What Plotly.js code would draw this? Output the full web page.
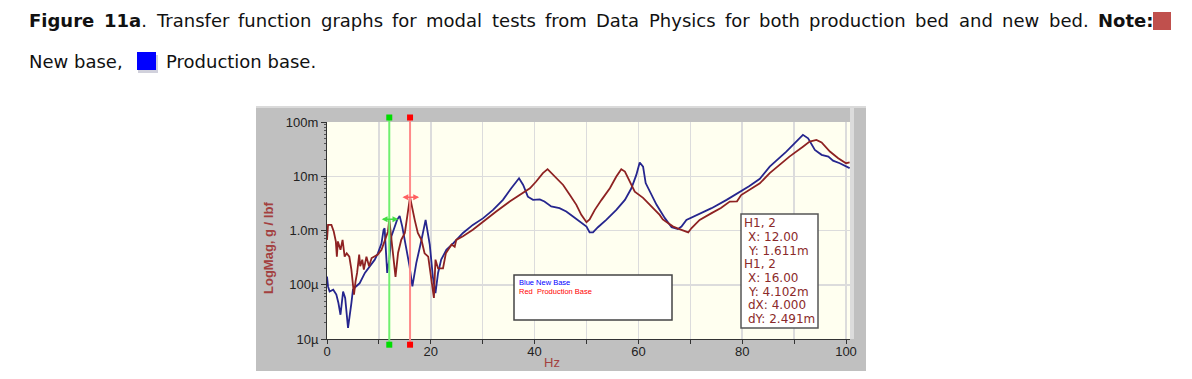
<!DOCTYPE html>
<html>
<head>
<meta charset="utf-8">
<script src="https://cdn.plot.ly/plotly-3.0.1.min.js"></script>
<style>html,body{margin:0;padding:0;background:#fff;}#chart{width:1192px;height:379px;}</style>
</head>
<body>
<div id="chart"></div>
<script>
// ---- data ----
const freqProduction = [0, 0.2, 0.85, 1.3, 1.7, 1.9, 2.1, 2.6, 3.0, 3.4, 3.8, 4.3, 4.7, 5.0, 5.2, 5.5, 5.8, 6.2, 6.4, 6.8, 7.1, 7.6, 8.1, 8.6, 9.2, 9.8, 10.5, 11.1, 11.75, 12.0, 12.6, 13.2, 13.7, 14.3, 15.0, 15.6, 16.0, 16.9, 17.5, 18.2, 18.8, 19.5, 20.1, 20.6, 20.9, 21.4, 22.35, 22.9, 24.0, 24.6, 24.9, 26.2, 28.1, 30.1, 32.6, 35.2, 37.1, 39.1, 40.3, 41.6, 42.5, 43.5, 44.5, 45.5, 46.8, 48.05, 49.0, 50.0, 50.6, 51.6, 52.9, 54.5, 55.75, 56.7, 57.4, 58.3, 59.3, 60.9, 62.5, 64.1, 64.7, 66.7, 68.3, 69.6, 70.2, 71.8, 74.1, 75.9, 77.6, 79.0, 79.8, 81.4, 83.4, 85.3, 89.1, 91.7, 93.0, 94.3, 95.3, 96.9, 98.5, 100.0, 100.7];
const magProduction = [0.67, 1.27, 1.27, 0.96, 0.63, 0.33, 0.63, 0.44, 0.67, 0.33, 0.38, 0.33, 0.19, 0.093, 0.066, 0.115, 0.165, 0.36, 0.22, 0.29, 0.19, 0.33, 0.22, 0.31, 0.33, 0.36, 0.44, 0.67, 0.96, 1.611, 0.51, 0.14, 0.39, 0.67, 0.9, 2.1, 4.102, 1.57, 0.9, 0.67, 0.38, 0.33, 0.12, 0.057, 0.29, 0.2, 0.2, 0.38, 0.55, 0.5, 0.67, 0.78, 1.03, 1.47, 2.24, 3.42, 4.5, 6.0, 8.0, 11.4, 13.5, 10.7, 8.6, 6.9, 4.5, 2.97, 1.94, 1.42, 1.6, 2.4, 3.67, 6.0, 9.9, 13.5, 12.2, 8.0, 5.2, 4.0, 2.77, 1.94, 1.6, 1.18, 1.03, 0.92, 1.1, 1.57, 2.09, 2.6, 3.42, 3.45, 4.5, 5.6, 7.4, 11.4, 23, 35, 43.6, 46.8, 42, 28.5, 21.5, 17.4, 18];
const freqNew = [0, 0.2, 0.5, 1.2, 1.8, 2.2, 2.6, 3.1, 3.5, 4.05, 4.7, 5.0, 5.6, 6.3, 7.3, 8.2, 9.2, 9.8, 10.5, 10.9, 11.1, 11.6, 12.0, 12.4, 13.05, 13.5, 14.0, 14.5, 15.2, 15.9, 16.45, 17.2, 18.2, 19.0, 19.8, 20.4, 20.9, 21.4, 22.0, 23.0, 24.3, 26.2, 28.1, 30.1, 32.0, 33.9, 35.5, 37.0, 37.8, 38.7, 39.7, 41.0, 41.9, 43.2, 44.8, 46.1, 47.4, 48.7, 50.0, 50.6, 51.25, 52.2, 53.8, 55.75, 57.4, 58.65, 59.6, 60.25, 60.9, 61.4, 62.5, 63.5, 65.1, 66.4, 67.6, 68.3, 69.25, 71.2, 74.1, 77.0, 80.2, 81.4, 83.4, 85.3, 88.5, 90.7, 91.7, 92.7, 94.0, 95.3, 96.6, 97.5, 98.8, 100.7];
const magNew = [0.142, 0.093, 0.075, 0.081, 0.066, 0.046, 0.028, 0.075, 0.057, 0.016, 0.046, 0.081, 0.093, 0.107, 0.165, 0.22, 0.29, 0.38, 0.58, 1.03, 1.1, 0.165, 0.29, 0.78, 1.18, 1.57, 1.86, 1.18, 0.51, 0.22, 0.093, 0.25, 0.67, 1.57, 0.55, 0.14, 0.07, 0.165, 0.29, 0.44, 0.58, 0.9, 1.27, 1.69, 2.4, 3.67, 6.0, 9.2, 6.9, 4.2, 3.67, 3.75, 3.42, 2.77, 2.58, 2.24, 1.81, 1.47, 1.18, 0.92, 0.92, 1.15, 1.57, 2.4, 3.67, 6.0, 10.6, 17.9, 15, 7.5, 4.5, 2.97, 1.69, 1.15, 1.06, 1.18, 1.57, 1.94, 2.58, 3.67, 5.6, 6.6, 9.0, 15, 28.5, 46.8, 58, 50, 30.6, 24.8, 23, 19.4, 17.4, 14.1];
const seriesNames = ['Blue New Base', 'Red  Production Base'];
const cursorX = [12, 16];          // Hz
const cursorY = [1.611, 4.102];    // m g/lbf
const xTickVals = [0, 20, 40, 60, 80, 100];
const xTickText = ['0', '20', '40', '60', '80', '100'];
const yTickVals = [1e-5, 1e-4, 1e-3, 1e-2, 1e-1];
const yTickText = ['10\u00b5', '100\u00b5', '1.0m', '10m', '100m'];
const readoutLines = ['H1, 2', 'X: 12.00', 'Y: 1.611m', 'H1, 2', 'X: 16.00', 'Y: 4.102m', 'dX: 4.000', 'dY: 2.491m'];
// caption words: [text, bold] segments per word
const captionWords = [[['Figure', 1]], [['11a', 1], ['.', 0]], [['Transfer', 0]], [['function', 0]], [['graphs', 0]], [['for', 0]], [['modal', 0]],
  [['tests', 0]], [['from', 0]], [['Data', 0]], [['Physics', 0]], [['for', 0]], [['both', 0]], [['production', 0]], [['bed', 0]],
  [['and', 0]], [['new', 0]], [['bed.', 0]], [['Note:', 1]]];
const captionLine2 = ['New base,', 'Production base.'];

// ---- layout helpers (pixel -> paper) ----
const L = 327, R = 342, T = 122, Bm = 40, W = 1192, Hh = 379;
const PW = W - L - R, PH = Hh - T - Bm, BOT = Hh - Bm;
const fx = px => (px - L) / PW;
const fy = py => (BOT - py) / PH;
const toG = arr => arr.map(v => v * 1e-3);

const traces = [
  {x: freqNew, y: toG(magNew), name: seriesNames[0], type: 'scatter', mode: 'lines',
   line: {color: '#26268e', width: 1.8}, showlegend: false, hoverinfo: 'x+y'},
  {x: freqProduction, y: toG(magProduction), name: seriesNames[1], type: 'scatter', mode: 'lines',
   line: {color: '#8e2222', width: 1.8}, showlegend: false, hoverinfo: 'x+y'}
];

const minorY = [];
for (let d = -5; d < -1; d++) for (let k = 2; k <= 9; k++) minorY.push(k * Math.pow(10, d));

const tickFont = {family: 'Liberation Sans, Arial, sans-serif', size: 13, color: '#222'};
const CAP_FAMILY = 'DejaVu Sans', CAP_SIZE = 18;
const capFont = {family: CAP_FAMILY + ', sans-serif', size: CAP_SIZE, color: '#111'};
const dark = '#8b2a2a';

const shapes = [
  {type: 'rect', xref: 'paper', yref: 'paper', layer: 'below', x0: fx(256), x1: fx(866), y0: fy(371), y1: fy(106), fillcolor: '#c0c0c0', line: {width: 0}},
  {type: 'rect', xref: 'paper', yref: 'paper', layer: 'below', x0: fx(256), x1: fx(866), y0: fy(108), y1: fy(106), fillcolor: '#dadada', line: {width: 0}},
  {type: 'rect', xref: 'paper', yref: 'paper', layer: 'below', x0: 1, x1: fx(854), y0: 0, y1: fy(108), fillcolor: '#dcdcdc', line: {width: 0}},
  {type: 'rect', xref: 'paper', yref: 'paper', layer: 'below', x0: 0, x1: 1, y0: 0, y1: 1, fillcolor: '#fffff0', line: {width: 0}},
  {type: 'rect', xref: 'paper', yref: 'paper', x0: fx(514), x1: fx(672), y0: fy(320), y1: fy(275), fillcolor: '#ffffff', line: {color: '#444', width: 1.5}},
  {type: 'rect', xref: 'paper', yref: 'paper', x0: fx(741), x1: fx(818), y0: fy(328), y1: fy(214), fillcolor: '#ffffff', line: {color: '#555', width: 1.5}},
  {type: 'rect', xref: 'paper', yref: 'paper', x0: fx(1153), x1: fx(1171), y0: fy(30), y1: fy(12), fillcolor: '#c0504d', line: {width: 0}},
  {type: 'rect', xref: 'paper', yref: 'paper', x0: fx(138), x1: fx(158), y0: fy(73), y1: fy(55), fillcolor: 'rgba(0,0,60,0.18)', line: {width: 0}},
  {type: 'rect', xref: 'paper', yref: 'paper', x0: fx(137), x1: fx(156), y0: fy(70), y1: fy(52), fillcolor: '#0000ff', line: {width: 0}}
];
const cursorColors = [['#6ff06f', '#00dd00'], ['#ff8a8a', '#ff0000']];
cursorX.forEach((cx, i) => {
  shapes.push({type: 'line', xref: 'x', yref: 'paper', x0: cx, x1: cx, y0: fy(344.7), y1: fy(117.5), line: {color: cursorColors[i][0], width: 2}});
  [117.5, 344.7].forEach(py => shapes.push({type: 'rect', xref: 'x', yref: 'paper', xsizemode: 'pixel', ysizemode: 'pixel',
    xanchor: cx, yanchor: fy(py), x0: -3, x1: 3, y0: -3, y1: 3, fillcolor: cursorColors[i][1], line: {width: 0}}));
});

const annotations = [];
// justified caption line 1 (measure words, spread to fill 28..1152 px)
const ctx = document.createElement('canvas').getContext('2d');
const segW = (t, b) => { ctx.font = (b ? 'bold ' : '') + CAP_SIZE + 'px "' + CAP_FAMILY + '"'; return ctx.measureText(t).width; };
const wordW = captionWords.map(w => w.reduce((s, g) => s + segW(g[0], g[1]), 0));
const lineStart = 28, lineEnd = 1152;
const gap = (lineEnd - lineStart - wordW.reduce((a, b) => a + b, 0)) / (captionWords.length - 1);
let cx0 = lineStart;
captionWords.forEach((w, i) => {
  annotations.push({xref: 'paper', yref: 'paper', x: fx(cx0), y: fy(21), xanchor: 'left', yanchor: 'middle', showarrow: false,
    font: capFont, borderpad: 0, text: w.map(g => g[1] ? '<b>' + g[0] + '</b>' : g[0]).join('')});
  cx0 += wordW[i] + gap;
});
annotations.push({xref: 'paper', yref: 'paper', x: fx(28), y: fy(61), xanchor: 'left', yanchor: 'middle', showarrow: false, font: capFont, borderpad: 0, text: captionLine2[0]});
annotations.push({xref: 'paper', yref: 'paper', x: fx(165), y: fy(61), xanchor: 'left', yanchor: 'middle', showarrow: false, font: capFont, borderpad: 0, text: captionLine2[1]});
annotations.push(
  {xref: 'paper', yref: 'paper', x: fx(268), y: fy(248), xanchor: 'center', yanchor: 'middle', textangle: -90, showarrow: false,
   font: {family: 'Liberation Sans, Arial, sans-serif', size: 13, color: '#a3403f', weight: 'bold'}, text: 'LogMag, g / lbf'},
  {xref: 'paper', yref: 'paper', x: fx(552), y: fy(362), xanchor: 'center', yanchor: 'middle', showarrow: false,
   font: {family: 'Liberation Sans, Arial, sans-serif', size: 13, color: '#a3403f'}, text: 'Hz'},
  {xref: 'paper', yref: 'paper', x: fx(517), y: fy(282), xanchor: 'left', yanchor: 'middle', showarrow: false,
   font: {family: 'Liberation Sans, Arial, sans-serif', size: 7.5, color: '#0000ff'}, text: seriesNames[0]},
  {xref: 'paper', yref: 'paper', x: fx(517), y: fy(291.5), xanchor: 'left', yanchor: 'middle', showarrow: false,
   font: {family: 'Liberation Sans, Arial, sans-serif', size: 7.5, color: '#ff0000'}, text: seriesNames[1].replace('  ', '&nbsp; ')}
);
const readoutY = [223.3, 236.9, 250.6, 264.2, 277.9, 291.6, 305.2, 318.9];
readoutLines.forEach((t, i) => annotations.push({xref: 'paper', yref: 'paper', x: fx(t.startsWith('H1') ? 743 : 746.5), y: fy(readoutY[i]),
  xanchor: 'left', yanchor: 'middle', showarrow: false, text: t, borderpad: 0,
  font: {family: 'DejaVu Sans, sans-serif', size: 12, color: dark}}));
const arrowColors = ['#44dd44', '#ff6060'];
cursorX.forEach((cx, i) => annotations.push({xref: 'x', yref: 'y', axref: 'x', ayref: 'y',
  x: cx + 1.75, y: Math.log10(cursorY[i] * 1e-3), ax: cx - 1.75, ay: Math.log10(cursorY[i] * 1e-3),
  text: '', showarrow: true, arrowside: 'end+start', arrowhead: 2, arrowsize: 0.9, arrowwidth: 1.3, arrowcolor: arrowColors[i], standoff: 0, startstandoff: 0}));

const layout = {
  width: W, height: Hh, margin: {l: L, r: R, t: T, b: Bm, pad: 0},
  paper_bgcolor: '#ffffff', plot_bgcolor: 'rgba(0,0,0,0)',
  xaxis: {range: [0, PW / 5.19], tickmode: 'array', tickvals: xTickVals, ticktext: xTickText, ticks: 'outside', ticklen: 4, tickcolor: '#333',
    showline: true, linecolor: '#333', linewidth: 1, mirror: false, zeroline: false, showgrid: true, gridcolor: '#dcdcdc', gridwidth: 1.5,
    minor: {tickmode: 'array', tickvals: [10, 30, 50, 70, 90], ticks: 'outside', ticklen: 4, tickcolor: '#333', showgrid: true, gridcolor: '#dcdcdc', gridwidth: 1.5},
    tickfont: tickFont, ticklabelstandoff: -4, automargin: false, fixedrange: true},
  yaxis: {type: 'log', range: [-5, -1], tickmode: 'array', tickvals: yTickVals, ticktext: yTickText, ticks: 'outside', ticklen: 5, tickcolor: '#333',
    showline: true, linecolor: '#333', linewidth: 1, zeroline: false, showgrid: true, gridcolor: '#dcdcdc', gridwidth: 1.5,
    minor: {tickmode: 'array', tickvals: minorY, ticks: 'outside', ticklen: 2, tickcolor: '#555', showgrid: false},
    tickfont: tickFont, automargin: false, fixedrange: true},
  shapes: shapes, annotations: annotations, showlegend: false
};
Plotly.newPlot('chart', traces, layout, {displayModeBar: false, staticPlot: true});
</script>
</body>
</html>
